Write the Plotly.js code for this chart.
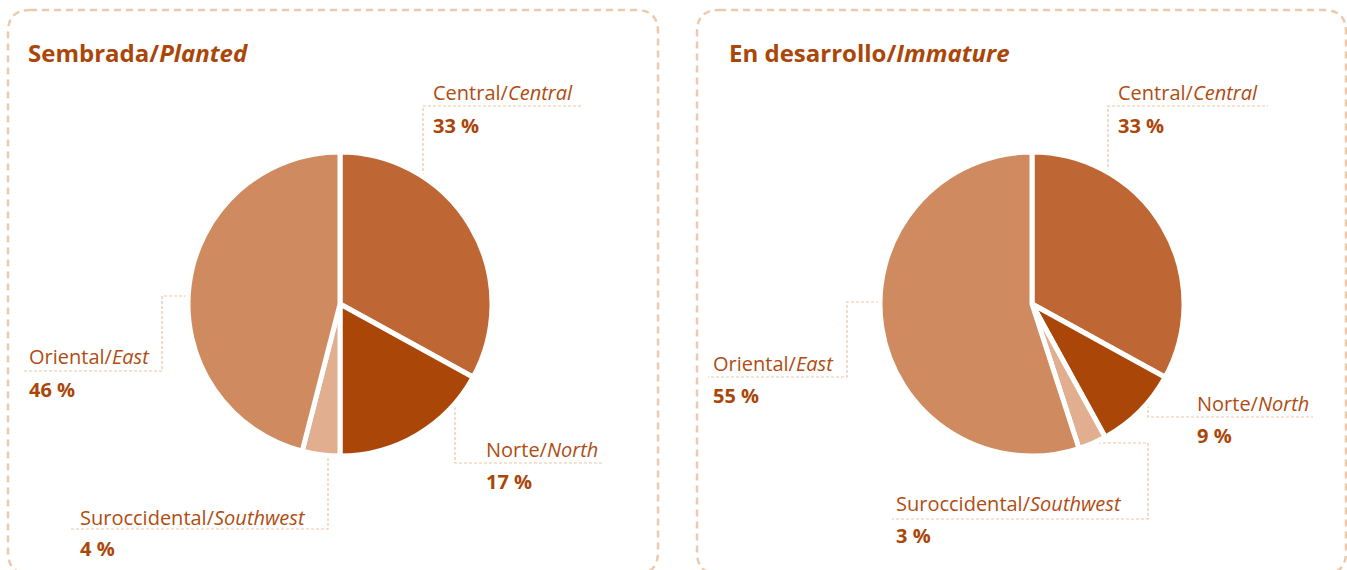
<!DOCTYPE html>
<html>
<head>
<meta charset="utf-8">
<script src="https://cdn.plot.ly/plotly-3.0.1.min.js"></script>
<style>html,body{margin:0;padding:0;background:#fff;}#chart{width:1347px;height:570px;}</style>
</head>
<body>
<div id="chart"></div>
<script>
// ---- data ----
const regionsEs = ['Central', 'Norte', 'Suroccidental', 'Oriental'];
const regionsEn = ['Central', 'North', 'Southwest', 'East'];
const plantedPct = [33, 17, 4, 46];
const immaturePct = [33, 9, 3, 55];
const panelTitlesEs = ['Sembrada', 'En desarrollo'];
const panelTitlesEn = ['Planted', 'Immature'];
const sliceColors = ['#BE6734', '#AB4609', '#E1AF8F', '#CF8A5F'];

// ---- layout helpers (pixel -> paper) ----
const W = 1347, H = 570;
const fx = x => x / W;
const fy = y => 1 - y / H;
const FONT = 'Open Sans, Noto Sans, sans-serif';
const labelColor = '#B04C12';
const valueColor = '#AB4609';
const borderColor = '#EDC9B0';
const leaderColor = '#EDC3A6';

function pieDomain(cx, cy, r) {
  return {x: [fx(cx - r), fx(cx + r)], y: [fy(cy + r), fy(cy - r)]};
}

const panels = [
  {
    values: plantedPct,
    pie: {cx: 340, cy: 304, r: 152},
    box: {x0: 8, x1: 658, y0: 10, y1: 574},
    title: {x: 26, y: 52},
    labels: [[431, 92, 125], [484, 449, 481], [78, 517, 548], [27, 357, 389]],
    leaders: [
      [[423, 176], [423, 106], [583, 106]],
      [[455, 407], [455, 463], [603, 463]],
      [[328, 458], [328, 529], [71, 529]],
      [[187, 296], [162, 296], [162, 371], [24, 371]]
    ]
  },
  {
    values: immaturePct,
    pie: {cx: 1032, cy: 304, r: 152},
    box: {x0: 697, x1: 1346, y0: 10, y1: 574},
    title: {x: 727, y: 52},
    labels: [[1116, 92, 125], [1195, 403, 435], [894, 503, 535], [711, 363, 395]],
    leaders: [
      [[1108, 172], [1108, 106], [1268, 106]],
      [[1148, 405], [1148, 417], [1313, 417]],
      [[1098, 443], [1148, 443], [1148, 519], [892, 519]],
      [[879, 302], [847, 302], [847, 377], [708, 377]]
    ]
  }
];

const data = [];
const shapes = [];
const annotations = [];

function roundedRectPath(b, rad) {
  const p = (x, y) => fx(x) + ',' + fy(y);
  return 'M ' + p(b.x0 + rad, b.y0) +
    ' L ' + p(b.x1 - rad, b.y0) +
    ' Q ' + p(b.x1, b.y0) + ' ' + p(b.x1, b.y0 + rad) +
    ' L ' + p(b.x1, b.y1 - rad) +
    ' Q ' + p(b.x1, b.y1) + ' ' + p(b.x1 - rad, b.y1) +
    ' L ' + p(b.x0 + rad, b.y1) +
    ' Q ' + p(b.x0, b.y1) + ' ' + p(b.x0, b.y1 - rad) +
    ' L ' + p(b.x0, b.y0 + rad) +
    ' Q ' + p(b.x0, b.y0) + ' ' + p(b.x0 + rad, b.y0) + ' Z';
}

panels.forEach((pn, pi) => {
  data.push({
    type: 'pie',
    values: pn.values,
    labels: regionsEs.map((r, i) => r + '/' + regionsEn[i]),
    marker: {colors: sliceColors, line: {color: '#ffffff', width: 5}},
    sort: false,
    direction: 'clockwise',
    rotation: 0,
    textinfo: 'none',
    hoverinfo: 'label+percent',
    showlegend: false,
    domain: pieDomain(pn.pie.cx, pn.pie.cy, pn.pie.r)
  });

  shapes.push({
    type: 'path', xref: 'paper', yref: 'paper', layer: 'below',
    path: roundedRectPath(pn.box, 22),
    line: {color: borderColor, width: 2.5, dash: '7px,5px'},
    fillcolor: 'rgba(0,0,0,0)'
  });

  annotations.push({
    xref: 'paper', yref: 'paper', x: fx(pn.title.x), y: fy(pn.title.y),
    xanchor: 'left', yanchor: 'middle', showarrow: false,
    text: '<b>' + panelTitlesEs[pi] + '/<i>' + panelTitlesEn[pi] + '</i></b>',
    font: {family: FONT, size: 24, color: valueColor}
  });

  pn.leaders.forEach(pts => {
    shapes.push({
      type: 'path', xref: 'paper', yref: 'paper', layer: 'below',
      path: pts.map((q, k) => (k ? 'L ' : 'M ') + fx(q[0]) + ',' + fy(q[1])).join(' '),
      line: {color: leaderColor, width: 1.2, dash: '3px,2px'}
    });
  });

  pn.labels.forEach((lp, i) => {
    annotations.push({
      xref: 'paper', yref: 'paper', x: fx(lp[0]), y: fy(lp[1]),
      xanchor: 'left', yanchor: 'middle', showarrow: false,
      text: regionsEs[i] + '/<i>' + regionsEn[i] + '</i>',
      font: {family: FONT, size: 20, color: labelColor}
    });
    annotations.push({
      xref: 'paper', yref: 'paper', x: fx(lp[0]), y: fy(lp[2]),
      xanchor: 'left', yanchor: 'middle', showarrow: false,
      text: '<b>' + pn.values[i] + ' %</b>',
      font: {family: FONT, size: 20, color: valueColor}
    });
  });
});

const layout = {
  width: W, height: H,
  margin: {l: 0, r: 0, t: 0, b: 0},
  paper_bgcolor: '#ffffff',
  plot_bgcolor: '#ffffff',
  showlegend: false,
  shapes: shapes,
  annotations: annotations
};

Plotly.newPlot('chart', data, layout, {displayModeBar: false, staticPlot: true});
</script>
</body>
</html>
